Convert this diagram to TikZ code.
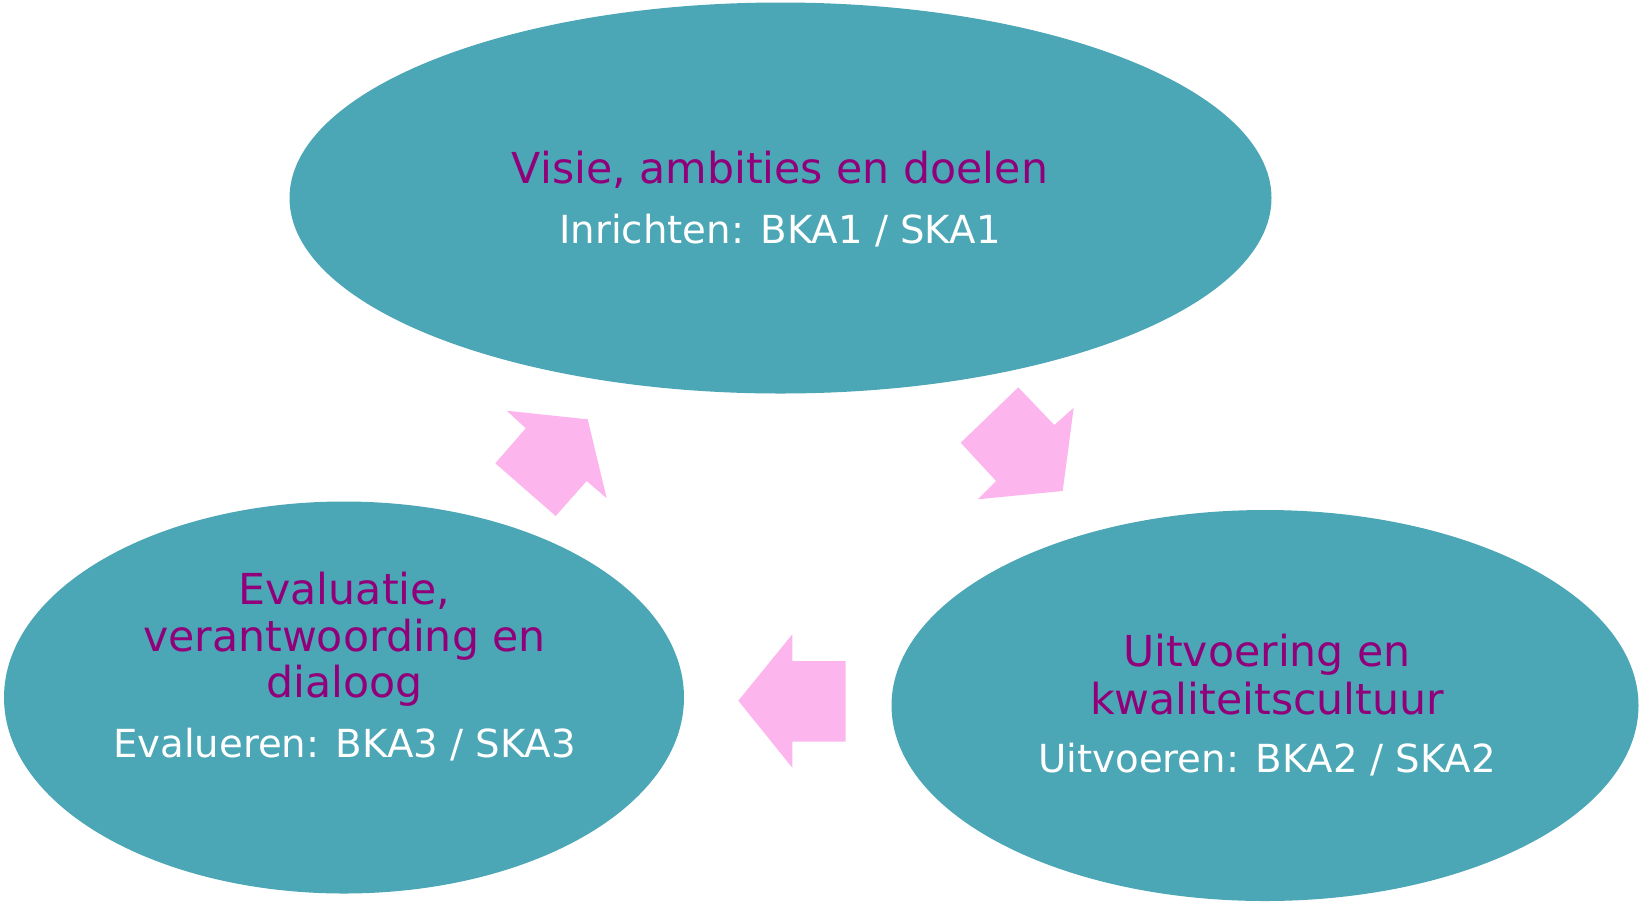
\documentclass[tikz,border=0pt]{standalone}
\usepackage{fontspec}
\setmainfont{DejaVu Sans}
\usepackage{tikz}
\usetikzlibrary{shapes.geometric}

\definecolor{bubbleteal}{RGB}{75,166,181}
\definecolor{titlepurple}{RGB}{145,0,122}
\definecolor{arrowpink}{RGB}{253,181,238}

\begin{document}
\begin{tikzpicture}[x=0.75pt,y=0.75pt,yscale=-1,xscale=1,
  bubble/.style={ellipse, fill=bubbleteal, draw=none, inner sep=0pt},
  cyclearrow/.style={fill=arrowpink, draw=none},
  title/.style={anchor=base, inner sep=0.75pt, text=titlepurple, font=\fontsize{32}{38}\selectfont},
  subtitle/.style={anchor=base, inner sep=0.75pt, text=white, font=\fontsize{29}{34}\selectfont}]
\useasboundingbox (0,0) rectangle (1639,901);

%Shape: Ellipse [top]
\node [bubble, minimum width=736.5pt, minimum height=293.25pt] (visie) at (780.5,198) {};
%Shape: Ellipse [left]
\node [bubble, minimum width=510pt, minimum height=294pt] (evaluatie) at (344,697.5) {};
%Shape: Ellipse [right]
\node [bubble, minimum width=560.25pt, minimum height=293.25pt] (uitvoering) at (1265,705.5) {};

%Shape: Right Arrow [top to right]
\fill [cyclearrow] (1018.3,387.3) -- (1054.3,425) -- (1073.7,407.7) -- (1062.7,491) -- (977.7,499.3) -- (996,481) -- (960.7,442.7) -- cycle ;
%Shape: Right Arrow [right to left]
\fill [cyclearrow] (845.7,661) -- (792.3,661) -- (792.3,634.3) -- (738.3,700.7) -- (792.3,767.7) -- (792.3,741.7) -- (845.7,741.7) -- cycle ;
%Shape: Right Arrow [left to top]
\fill [cyclearrow] (495.3,463.3) -- (525.7,428.3) -- (506.7,410.7) -- (587.7,419.3) -- (606.7,498.3) -- (586.7,481) -- (555.7,516) -- cycle ;

% Text Node
\node [title] (visiet) at (780,183) {Visie, ambities en doelen};
% Text Node
\node [subtitle] (visies) at (780,243) {Inrichten: BKA1 / SKA1};

% Text Node
\node [title] (evalta) at (344.5,604.3) {Evaluatie,};
% Text Node
\node [title] (evaltb) at (344.5,651.7) {verantwoording en};
% Text Node
\node [title] (evaltc) at (344.5,697.3) {dialoog};
% Text Node
\node [subtitle] (evals) at (344.5,757.7) {Evalueren: BKA3 / SKA3};

% Text Node
\node [title] (uitvta) at (1267,666.7) {Uitvoering en};
% Text Node
\node [title] (uitvtb) at (1267,714) {kwaliteitscultuur};
% Text Node
\node [subtitle] (uitvs) at (1267,772.7) {Uitvoeren: BKA2 / SKA2};

\end{tikzpicture}
\end{document}
